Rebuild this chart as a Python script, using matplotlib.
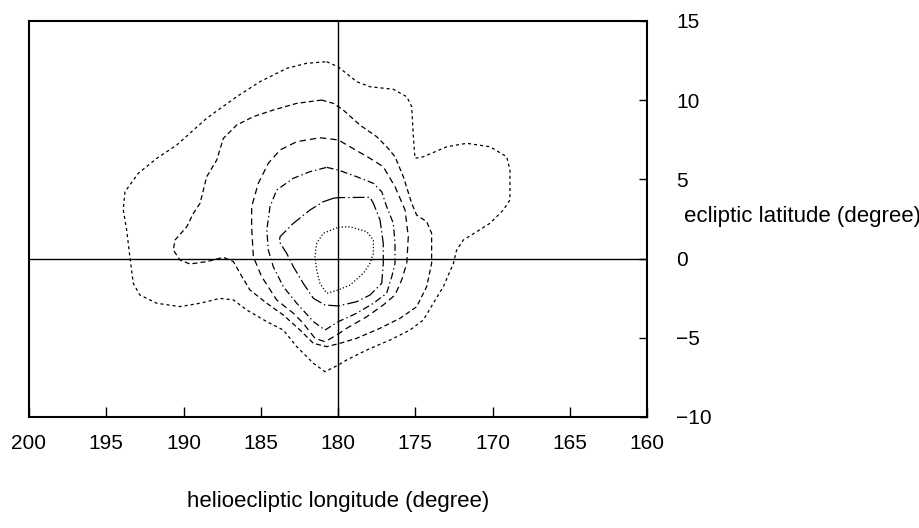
import matplotlib
matplotlib.use("Agg")
import matplotlib.pyplot as plt

plt.rcParams['font.family'] = ['Liberation Sans', 'DejaVu Sans']
plt.rcParams['lines.scale_dashes'] = False

# Contour levels (longitude deg, latitude deg)
c1_lon = [180.73, 179.98, 178.79, 177.93, 176.42, 175.55, 175.23, 175.12, 175.02, 174.48,
          172.96, 171.67, 170.16, 169.08, 168.87, 168.87, 169.30, 170.16, 171.89, 172.32,
          172.53, 173.18, 173.83, 174.48, 175.34, 176.63, 178.14, 179.44, 179.98, 180.84,
          181.59, 182.67, 183.54, 184.61, 185.91, 186.77, 187.64, 188.93, 190.23, 191.73,
          192.82, 193.25, 193.46, 193.68, 193.90, 193.79, 192.93, 191.73, 190.44, 188.50,
          186.56, 185.05, 183.32, 182.03, 180.73]
c1_lat = [12.43, 12.10, 11.17, 10.85, 10.69, 10.22, 9.59, 7.70, 6.33, 6.43,
          7.06, 7.28, 7.06, 6.43, 5.59, 3.70, 3.07, 2.23, 1.17, 0.54,
          -0.30, -1.77, -2.82, -3.88, -4.51, -5.14, -5.77, -6.40, -6.72, -7.14,
          -6.61, -5.56, -4.51, -3.98, -3.24, -2.61, -2.51, -2.82, -3.03, -2.82,
          -2.30, -1.56, 0.02, 1.81, 3.07, 4.22, 5.38, 6.33, 7.17, 8.86,
          10.22, 11.17, 12.01, 12.33, 12.43]

c2_lon = [181.06, 180.30, 179.66, 178.58, 177.50, 176.85, 176.31, 175.77, 175.23, 174.91,
          174.26, 173.94, 173.94, 174.26, 174.91, 175.99, 177.28, 178.79, 179.87, 180.73,
          181.59, 182.46, 183.54, 184.61, 185.70, 186.34, 186.77, 187.42, 188.50, 189.58,
          190.23, 190.66, 190.55, 189.79, 189.36, 188.93, 188.50, 187.85, 187.42, 186.56,
          185.48, 184.19, 182.67, 181.06]
c2_lat = [10.01, 9.80, 9.38, 8.43, 7.70, 7.06, 6.43, 5.17, 3.49, 2.75,
          2.33, 1.60, -0.30, -1.77, -3.04, -3.77, -4.40, -5.03, -5.35, -5.56,
          -5.35, -4.51, -3.56, -2.82, -1.98, -0.93, -0.19, 0.08, -0.19, -0.34,
          -0.09, 0.54, 1.17, 2.01, 2.86, 3.49, 5.17, 6.22, 7.59, 8.43,
          8.96, 9.38, 9.80, 10.01]

c3_lon = [181.17, 179.98, 179.22, 177.93, 177.07, 176.31, 175.66, 175.45, 175.55, 175.88,
          176.31, 177.07, 178.14, 179.44, 180.08, 180.84, 181.49, 182.25, 182.89, 183.97,
          184.94, 185.48, 185.59, 185.59, 185.16, 184.51, 183.75, 182.67, 181.17]
c3_lat = [7.63, 7.49, 7.06, 6.33, 5.80, 4.54, 3.07, 1.38, -0.30, -1.35,
          -2.30, -2.93, -3.67, -4.40, -4.82, -5.25, -5.03, -4.08, -3.45, -2.61,
          -1.14, 0.12, 2.01, 3.28, 4.75, 6.02, 6.86, 7.38, 7.63]

c4_lon = [180.73, 179.98, 178.79, 177.71, 177.17, 176.85, 176.42, 176.31, 176.31, 176.52,
          176.85, 177.71, 178.79, 179.98, 180.84, 181.59, 182.67, 183.54, 184.19, 184.51,
          184.61, 184.40, 183.97, 182.89, 181.81, 180.73]
c4_lat = [5.76, 5.59, 5.17, 4.75, 4.22, 3.28, 2.23, 0.97, -0.30, -1.14,
          -2.19, -2.82, -3.45, -3.98, -4.51, -3.98, -2.82, -1.77, -0.51, 0.54,
          1.81, 3.28, 4.33, 5.07, 5.49, 5.76]

c5_lon = [180.30, 179.98, 177.93, 177.71, 177.28, 177.07, 177.07, 177.17, 177.93, 178.79,
          179.98, 180.84, 181.59, 182.25, 182.89, 183.32, 183.80, 183.75, 182.89, 181.81,
          180.95, 180.30]
c5_lat = [3.81, 3.85, 3.87, 3.49, 2.44, 0.97, -0.30, -1.56, -2.30, -2.72,
          -2.99, -2.93, -2.51, -1.56, -0.51, 0.33, 1.07, 1.38, 2.23, 3.07,
          3.59, 3.81]

c6_lon = [179.98, 179.22, 178.14, 177.71, 177.71, 177.93, 178.36, 179.22, 179.98, 180.73,
          181.17, 181.38, 181.49, 181.38, 180.95, 179.98]
c6_lat = [1.98, 2.01, 1.70, 1.17, 0.33, -0.30, -0.93, -1.67, -1.98, -2.19,
          -1.56, -0.72, 0.12, 0.97, 1.60, 1.98]

x_ticks = [200, 195, 190, 185, 180, 175, 170, 165, 160]
y_ticks = [-10, -5, 0, 5, 10, 15]

fig = plt.figure(figsize=(9.2, 5.28), dpi=100)
ax = fig.add_axes([29/920, 1 - 417/528, (647 - 29)/920, (417 - 21)/528])

lw = 0.9
styles = [
    (c1_lon, c1_lat, (0, (2.2, 2.2))),
    (c2_lon, c2_lat, (0, (3.6, 2.2))),
    (c3_lon, c3_lat, (0, (4.6, 2.9))),
    (c4_lon, c4_lat, (0, (5.0, 2.2, 1.0, 2.2))),
    (c5_lon, c5_lat, (0, (8.5, 2.2, 1.0, 2.2))),
    (c6_lon, c6_lat, (0, (0.9, 1.5))),
]
for lon, lat, ls in styles:
    ax.plot(lon, lat, color='black', lw=lw, linestyle=ls)

ax.axvline(180, color='black', lw=1.0)
ax.axhline(0, color='black', lw=1.0)

ax.set_xlim(200, 160)
ax.set_ylim(-10, 15)
for s in ax.spines.values():
    s.set_linewidth(1.5)

ax.set_xticks(x_ticks)
ax.set_xticklabels([str(v) for v in x_ticks])
ax.set_yticks(y_ticks)
ax.set_yticklabels(['\u221210', '\u22125', '0', '5', '10', '15'])
ax.yaxis.tick_right()
ax.tick_params(axis='x', direction='in', length=7, width=1.0, pad=12, labelsize=15)
ax.tick_params(axis='y', direction='in', length=6, width=1.0, pad=21, labelsize=15)
for lab in ax.get_yticklabels():
    lab.set_horizontalalignment('left')

fig.text(684/920, 1 - 216/528, 'ecliptic latitude (degree)', fontsize=16,
         ha='left', va='center')
fig.text(338/920, 1 - 502/528, 'helioecliptic longitude (degree)', fontsize=16,
         ha='center', va='center')

fig.savefig('out.png', dpi=100)
